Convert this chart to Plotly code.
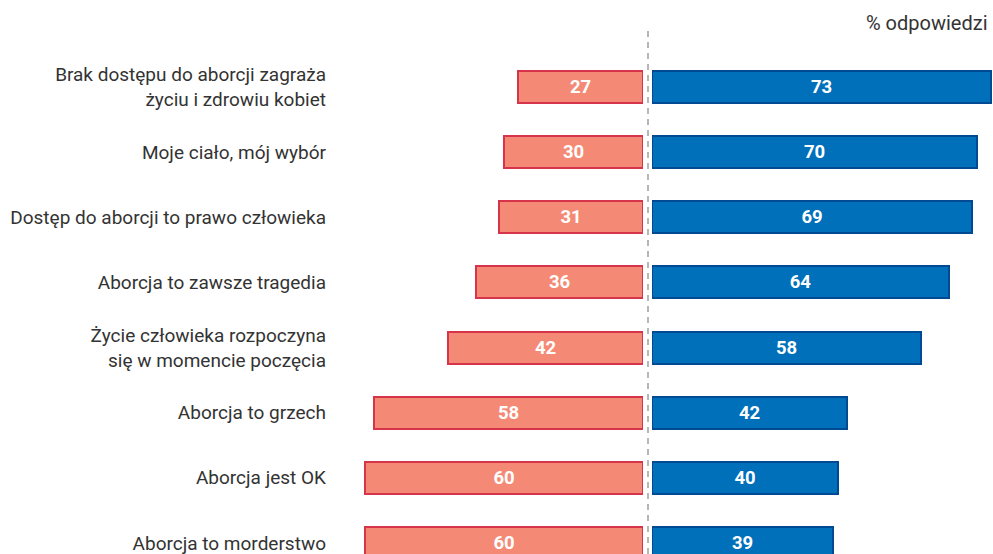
import plotly.graph_objects as go

# Survey statements and the share of answers on each side
statements = [
    "Brak dostępu do aborcji zagraża<br>życiu i zdrowiu kobiet",
    "Moje ciało, mój wybór",
    "Dostęp do aborcji to prawo człowieka",
    "Aborcja to zawsze tragedia",
    "Życie człowieka rozpoczyna<br>się w momencie poczęcia",
    "Aborcja to grzech",
    "Aborcja jest OK",
    "Aborcja to morderstwo",
]
disagree = [27, 30, 31, 36, 42, 58, 60, 60]
agree = [73, 70, 69, 64, 58, 42, 40, 39]

W, H = 993, 554
PX_PER_UNIT = 4.64          # horizontal scale shared by both halves
LEFT_X0, LEFT_X1 = 340, 643  # pixel span of the left half
RIGHT_X0, RIGHT_X1 = 652, 993
ROW_TOP, ROW_STEP = 87, 65.14

FONT = "Roboto, Arial, sans-serif"
TEXT = "#333333"

fig = go.Figure()

fig.add_trace(go.Bar(
    y=statements, x=disagree, orientation="h",
    xaxis="x", yaxis="y", width=0.49,
    marker=dict(color="#f48a76", line=dict(color="#d5344a", width=2)),
    text=disagree, texttemplate="%{text}", textposition="inside",
    insidetextanchor="middle",
    textfont=dict(family=FONT, size=18.5, color="white", weight="bold"),
    hoverinfo="skip", showlegend=False,
))
fig.add_trace(go.Bar(
    y=statements, x=agree, orientation="h",
    xaxis="x2", yaxis="y", width=0.49,
    marker=dict(color="#0070bb", line=dict(color="#004a94", width=2)),
    text=agree, texttemplate="%{text}", textposition="inside",
    insidetextanchor="middle",
    textfont=dict(family=FONT, size=18.5, color="white", weight="bold"),
    hoverinfo="skip", showlegend=False,
))

y_top = -ROW_TOP / ROW_STEP
y_bottom = y_top + H / ROW_STEP

fig.update_layout(
    width=W, height=H,
    margin=dict(l=0, r=0, t=0, b=0),
    paper_bgcolor="white", plot_bgcolor="white",
    font=dict(family=FONT, size=19, color=TEXT),
    bargap=0,
    uniformtext=dict(mode=False),
    xaxis=dict(
        domain=[LEFT_X0 / W, LEFT_X1 / W],
        range=[(LEFT_X1 - LEFT_X0) / PX_PER_UNIT, 0],
        visible=False, fixedrange=True,
    ),
    xaxis2=dict(
        domain=[RIGHT_X0 / W, RIGHT_X1 / W],
        range=[0, (RIGHT_X1 - RIGHT_X0) / PX_PER_UNIT],
        visible=False, fixedrange=True,
    ),
    yaxis=dict(
        anchor="x", type="category",
        categoryorder="array", categoryarray=statements,
        range=[y_bottom, y_top],
        showgrid=False, zeroline=False, showline=False,
        ticks="", ticklabelstandoff=13,
        tickfont=dict(family=FONT, size=19, color=TEXT),
        fixedrange=True,
    ),
    shapes=[dict(
        type="line", xref="paper", yref="paper",
        x0=648 / W, x1=648 / W, y0=0, y1=1 - 30 / H,
        line=dict(color="#a0a0a0", width=1.5, dash="6px,5px"),
        layer="below",
    )],
    annotations=[dict(
        text="% odpowiedzi", xref="paper", yref="paper",
        x=1 - 3 / W, y=1 - 9 / H, xanchor="right", yanchor="top",
        showarrow=False, font=dict(family=FONT, size=20, color=TEXT),
    )],
)

fig.write_html("out.html")
